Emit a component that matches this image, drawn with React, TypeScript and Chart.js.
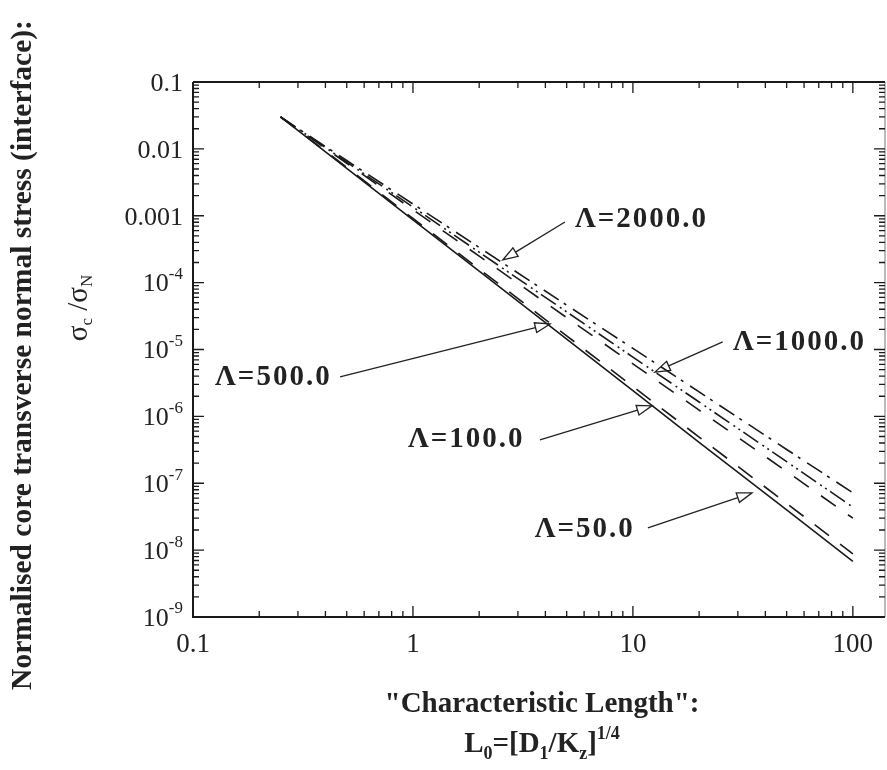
import React, { useEffect, useRef } from "react";
import { Chart, registerables } from "chart.js";
Chart.register(...registerables);

// ---------- data ----------
const xValues = [0.25, 0.5, 1, 2, 5, 10, 20, 50, 100];
const lambda50 = [0.03, 5.1e-3, 8.7e-4, 1.48e-4, 1.43e-5, 2.43e-6, 4.1e-7, 4.0e-8, 6.8e-9];
const lambda100 = [0.03, 5.3e-3, 9.1e-4, 1.6e-4, 1.6e-5, 2.8e-6, 4.9e-7, 5.0e-8, 8.8e-9];
const lambda500 = [0.03, 6.1e-3, 1.23e-3, 2.49e-4, 3.0e-5, 6.1e-6, 1.24e-6, 1.5e-7, 3.0e-8];
const lambda1000 = [0.03, 6.35e-3, 1.35e-3, 2.85e-4, 3.65e-5, 7.7e-6, 1.64e-6, 2.1e-7, 4.4e-8];
const lambda2000 = [0.03, 6.7e-3, 1.5e-3, 3.36e-4, 4.6e-5, 1.04e-5, 2.32e-6, 3.2e-7, 7.2e-8];
const seriesNames = ["Λ=50.0", "Λ=100.0", "Λ=500.0", "Λ=1000.0", "Λ=2000.0"];
const seriesValues = [lambda50, lambda100, lambda500, lambda1000, lambda2000];

const xTickValues = [0.1, 1, 10, 100];
const xTickLabels = ["0.1", "1", "10", "100"];
const yTickValues = [0.1, 0.01, 0.001, 1e-4, 1e-5, 1e-6, 1e-7, 1e-8, 1e-9];
const yTickBase = ["0.1", "0.01", "0.001", "10", "10", "10", "10", "10", "10"];
const yTickExp = ["", "", "", "-4", "-5", "-6", "-7", "-8", "-9"];

// annotation labels (data coordinates)
const noteText = ["Λ=2000.0", "Λ=500.0", "Λ=1000.0", "Λ=100.0", "Λ=50.0"];
const noteTextX = [5.45, 0.126, 28.5, 0.95, 3.58];
const noteTextY = [8.65e-4, 3.76e-6, 1.256e-5, 4.46e-7, 2.0e-8];
const noteTailX = [4.91, 0.466, 25.6, 3.78, 11.7];
const noteTailY = [8.07e-4, 3.9e-6, 1.3e-5, 4.46e-7, 2.15e-8];
const noteHeadX = [2.56, 4.2, 12.6, 12.2, 34.8];
const noteHeadY = [2.18e-4, 2.41e-5, 4.6e-6, 1.44e-6, 7.2e-8];

const X_MIN = 0.1;
const X_MAX = 140;
const Y_MIN = 1e-9;
const Y_MAX = 0.1;

// ---------- styles ----------
const SERIF = '"Liberation Serif", "Times New Roman", serif';
const dashes = [[], [18, 14], [18, 15], [18, 5, 2, 4, 2, 4], [18, 6, 3, 8]];

type Part = { t: string; font: string; dy: number };

function drawParts(
  ctx: CanvasRenderingContext2D,
  parts: Part[],
  x: number,
  y: number,
  align: "left" | "center" | "right",
  spacing = 0
) {
  (ctx as any).letterSpacing = `${spacing}px`;
  let total = 0;
  const widths = parts.map((p) => {
    ctx.font = p.font;
    const w = ctx.measureText(p.t).width;
    total += w;
    return w;
  });
  let cx = align === "left" ? x : align === "center" ? x - total / 2 : x - total;
  ctx.textAlign = "left";
  ctx.textBaseline = "middle";
  parts.forEach((p, i) => {
    ctx.font = p.font;
    ctx.fillText(p.t, cx, y + p.dy);
    cx += widths[i];
  });
  (ctx as any).letterSpacing = "0px";
}

const decorPlugin = {
  id: "decor",
  afterDraw(chart: any) {
    const ctx: CanvasRenderingContext2D = chart.ctx;
    const xs = chart.scales.x;
    const ys = chart.scales.y;
    const { left, right, top, bottom } = chart.chartArea;
    ctx.save();
    ctx.strokeStyle = "#1a1a1a";
    ctx.fillStyle = "#1a1a1a";

    // frame
    ctx.lineWidth = 2;
    ctx.beginPath();
    ctx.moveTo(left, top);
    ctx.lineTo(right, top);
    ctx.moveTo(left, top);
    ctx.lineTo(left, bottom);
    ctx.lineTo(right, bottom);
    ctx.stroke();
    ctx.lineWidth = 1;
    ctx.strokeStyle = "#777";
    ctx.beginPath();
    ctx.moveTo(right, top);
    ctx.lineTo(right, bottom);
    ctx.stroke();
    ctx.strokeStyle = "#1a1a1a";

    // ticks (inward)
    ctx.lineWidth = 1.3;
    ctx.beginPath();
    for (let d = -1; d <= 2; d++) {
      for (let m = 1; m <= 9; m++) {
        const v = m * Math.pow(10, d);
        if (v < X_MIN - 1e-12 || v > X_MAX) continue;
        const px = xs.getPixelForValue(v);
        const len = m === 1 ? 11 : 6;
        ctx.moveTo(px, bottom);
        ctx.lineTo(px, bottom - len);
        ctx.moveTo(px, top);
        ctx.lineTo(px, top + len);
      }
    }
    for (let d = -9; d <= -1; d++) {
      for (let m = 1; m <= 9; m++) {
        const v = m * Math.pow(10, d);
        if (v < Y_MIN * 0.999 || v > Y_MAX * 1.001) continue;
        const py = ys.getPixelForValue(v);
        const len = m === 1 ? 11 : 6;
        ctx.moveTo(left, py);
        ctx.lineTo(left + len, py);
        ctx.moveTo(right, py);
        ctx.lineTo(right - len, py);
      }
    }
    ctx.stroke();

    // x tick labels
    ctx.fillStyle = "#222";
    xTickValues.forEach((v, i) => {
      drawParts(ctx, [{ t: xTickLabels[i], font: `27px ${SERIF}`, dy: 0 }], xs.getPixelForValue(v), bottom + 28, "center");
    });
    // y tick labels
    yTickValues.forEach((v, i) => {
      const py = ys.getPixelForValue(v);
      const parts: Part[] = [{ t: yTickBase[i], font: `26px ${SERIF}`, dy: 2 }];
      if (yTickExp[i]) parts.push({ t: yTickExp[i], font: `17px ${SERIF}`, dy: -8 });
      drawParts(ctx, parts, left - 10, py, "right");
    });

    // y title
    ctx.save();
    ctx.translate(23, 355);
    ctx.rotate(-Math.PI / 2);
    drawParts(ctx, [{ t: "Normalised core transverse normal stress (interface):", font: `bold 29.5px ${SERIF}`, dy: 0 }], 0, 0, "center");
    ctx.restore();
    ctx.save();
    ctx.translate(79, 308);
    ctx.rotate(-Math.PI / 2);
    drawParts(
      ctx,
      [
        { t: "σ", font: `29px ${SERIF}`, dy: 0 },
        { t: "c", font: `17px ${SERIF}`, dy: 9 },
        { t: " /", font: `29px ${SERIF}`, dy: 0 },
        { t: "σ", font: `29px ${SERIF}`, dy: 0 },
        { t: "N", font: `17px ${SERIF}`, dy: 9 },
      ],
      0,
      0,
      "center"
    );
    ctx.restore();

    // x title
    drawParts(ctx, [{ t: '"Characteristic Length":', font: `bold 29px ${SERIF}`, dy: 0 }], 542, 705, "center");
    drawParts(
      ctx,
      [
        { t: "L", font: `bold 29px ${SERIF}`, dy: 0 },
        { t: "0", font: `bold 18px ${SERIF}`, dy: 9 },
        { t: "=[D", font: `bold 29px ${SERIF}`, dy: 0 },
        { t: "1", font: `bold 18px ${SERIF}`, dy: 9 },
        { t: "/K", font: `bold 29px ${SERIF}`, dy: 0 },
        { t: "z", font: `bold 18px ${SERIF}`, dy: 9 },
        { t: "]", font: `bold 29px ${SERIF}`, dy: 0 },
        { t: "1/4", font: `bold 18px ${SERIF}`, dy: -11 },
      ],
      542,
      745,
      "center"
    );

    // annotations
    ctx.strokeStyle = "#222";
    ctx.lineWidth = 1.3;
    noteText.forEach((t, i) => {
      const tx = xs.getPixelForValue(noteTextX[i]);
      const ty = ys.getPixelForValue(noteTextY[i]);
      drawParts(ctx, [{ t, font: `bold 29px ${SERIF}`, dy: 0 }], tx, ty, "left", 2);
      const ax = xs.getPixelForValue(noteTailX[i]);
      const ay = ys.getPixelForValue(noteTailY[i]);
      const hx = xs.getPixelForValue(noteHeadX[i]);
      const hy = ys.getPixelForValue(noteHeadY[i]);
      const ang = Math.atan2(hy - ay, hx - ax);
      const L = 15;
      const W = 5;
      const bx = hx - L * Math.cos(ang);
      const by = hy - L * Math.sin(ang);
      ctx.beginPath();
      ctx.moveTo(ax, ay);
      ctx.lineTo(bx, by);
      ctx.stroke();
      ctx.beginPath();
      ctx.moveTo(hx, hy);
      ctx.lineTo(bx + W * Math.sin(ang), by - W * Math.cos(ang));
      ctx.lineTo(bx - W * Math.sin(ang), by + W * Math.cos(ang));
      ctx.closePath();
      ctx.stroke();
    });
    ctx.restore();
  },
};

export default function App() {
  const ref = useRef<HTMLCanvasElement | null>(null);
  useEffect(() => {
    if (!ref.current) return;
    const chart = new Chart(ref.current, {
      type: "line",
      data: {
        datasets: seriesValues.map((vals, i) => ({
          label: seriesNames[i],
          data: xValues.map((x, j) => ({ x, y: vals[j] })),
          borderColor: "#1a1a1a",
          borderWidth: 1.6,
          borderDash: dashes[i],
          pointRadius: 0,
          fill: false,
          tension: 0,
        })),
      },
      options: {
        animation: false,
        responsive: false,
        events: [],
        layout: { padding: { left: 193, right: 2, top: 82, bottom: 153 } },
        plugins: { legend: { display: false }, tooltip: { enabled: false } },
        scales: {
          x: { type: "logarithmic", min: X_MIN, max: X_MAX, display: false },
          y: { type: "logarithmic", min: Y_MIN, max: Y_MAX, display: false },
        },
      },
      plugins: [decorPlugin],
    });
    return () => chart.destroy();
  }, []);
  return (
    <div style={{ position: "absolute", left: 0, top: 0, width: 887, height: 770, background: "#fff" }}>
      <canvas ref={ref} width={887} height={770} />
    </div>
  );
}
